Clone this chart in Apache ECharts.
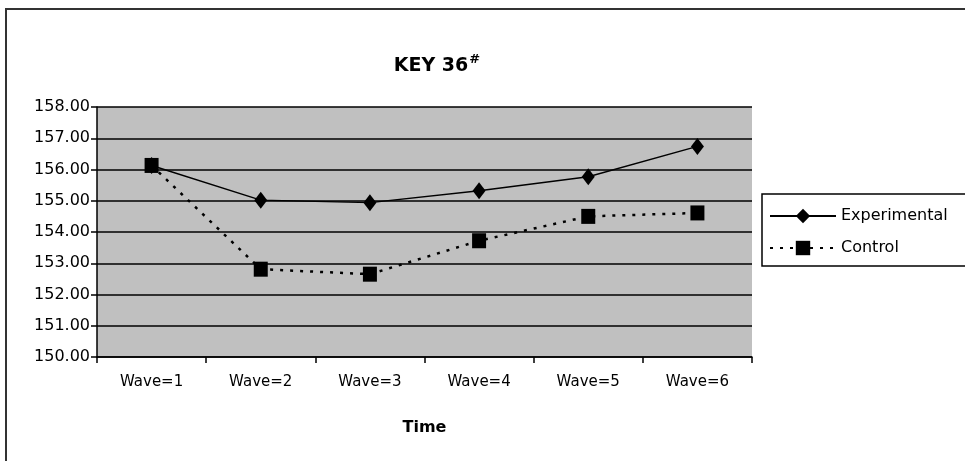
<!DOCTYPE html>
<html>
<head>
<meta charset="utf-8">
<script src="https://cdn.jsdelivr.net/npm/echarts@6/dist/echarts.min.js"></script>
<style>html,body{margin:0;padding:0;background:#fff}#c{width:965px;height:461px}</style>
</head>
<body>
<div id="c"></div>
<script>
const categories = ['Wave=1', 'Wave=2', 'Wave=3', 'Wave=4', 'Wave=5', 'Wave=6'];
const experimental = [156.13, 155.02, 154.94, 155.32, 155.77, 156.74];
const control = [156.13, 152.81, 152.65, 153.72, 154.50, 154.61];
const yTicks = { min: 150, max: 158, interval: 1 };

const FONT = 'DejaVu Sans, Arial, sans-serif';
const chart = echarts.init(document.getElementById('c'));
chart.setOption({
  animation: false,
  backgroundColor: '#ffffff',
  title: {
    text: '{a|KEY 36}{b|#}',
    left: 432, top: 48, textAlign: 'center',
    textStyle: {
      rich: {
        a: { fontFamily: FONT, fontWeight: 'bold', fontSize: 19, color: '#000', verticalAlign: 'bottom' },
        b: { fontFamily: FONT, fontWeight: 'bold', fontSize: 13, color: '#000', verticalAlign: 'top', padding: [0, 0, 10, 1] }
      }
    }
  },
  graphic: [
    { type: 'rect', z: -1, shape: { x: 6, y: 9, width: 1100, height: 600 }, style: { fill: 'none', stroke: '#333', lineWidth: 2 } },
    { type: 'rect', z: 0, shape: { x: 762, y: 194, width: 300, height: 72 }, style: { fill: '#fff', stroke: '#000', lineWidth: 1.5 } }
  ],
  legend: {
    orient: 'vertical',
    left: 764, top: 203,
    itemWidth: 66, itemHeight: 18, itemGap: 16,
    z: 5,
    textStyle: { fontFamily: FONT, fontSize: 16, color: '#000', padding: [0, 0, 0, 0] },
    data: ['Experimental', 'Control']
  },
  grid: { left: 97, right: 213, top: 107, bottom: 104, show: true, backgroundColor: '#c0c0c0', borderWidth: 0 },
  xAxis: {
    type: 'category',
    data: categories,
    boundaryGap: true,
    name: 'Time', nameLocation: 'middle', nameGap: 63,
    nameTextStyle: { fontFamily: FONT, fontWeight: 'bold', fontSize: 16, color: '#000' },
    axisLine: { lineStyle: { color: '#000', width: 1.5 } },
    axisTick: { show: true, alignWithLabel: false, length: 6, lineStyle: { color: '#000', width: 1.5 } },
    axisLabel: { fontFamily: FONT, fontSize: 15, color: '#000', margin: 18 },
    splitLine: { show: false }
  },
  yAxis: {
    type: 'value',
    min: yTicks.min, max: yTicks.max, interval: yTicks.interval,
    axisLine: { show: true, lineStyle: { color: '#000', width: 1.5 } },
    axisTick: { show: true, length: 6, lineStyle: { color: '#000', width: 1.5 } },
    axisLabel: { fontFamily: FONT, fontSize: 16, color: '#000', margin: 7, formatter: v => v.toFixed(2) },
    splitLine: { show: true, lineStyle: { color: '#000', width: 1.5 } }
  },
  series: [
    {
      name: 'Experimental', type: 'line', data: experimental,
      symbol: 'diamond', symbolSize: [13, 17],
      itemStyle: { color: '#000' },
      lineStyle: { color: '#000', width: 1.5, type: 'solid' },
      z: 3
    },
    {
      name: 'Control', type: 'line', data: control,
      symbol: 'rect', symbolSize: [14, 15],
      itemStyle: { color: '#000' },
      lineStyle: { color: '#000', width: 2.5, type: [3, 7] },
      z: 4
    }
  ]
});
</script>
</body>
</html>
